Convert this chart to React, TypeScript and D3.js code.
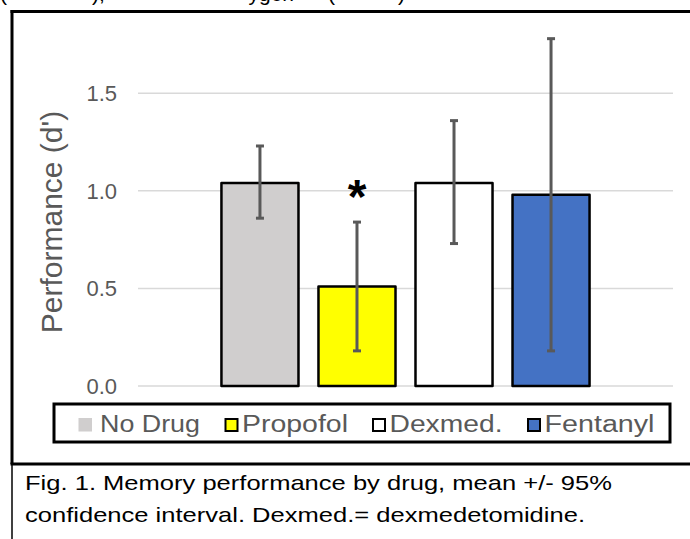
import { useEffect, useRef } from 'react';
import * as d3 from 'd3';

const drugs = ['No Drug', 'Propofol', 'Dexmed.', 'Fentanyl'];
const means = [1.04, 0.51, 1.04, 0.98];
const ciLow = [0.86, 0.18, 0.73, 0.18];
const ciHigh = [1.23, 0.84, 1.36, 1.78];
const fills = ['#d0cece', '#ffff00', '#ffffff', '#4472c4'];
const yTicks = [0, 0.5, 1.0, 1.5];
const starred = ['Propofol'];
const captionLines = [
  'Fig. 1. Memory performance by drug, mean +/- 95%',
  'confidence interval. Dexmed.= dexmedetomidine.',
];

const W = 690;
const H = 539;
const FONT = 'Arial, "Liberation Sans", sans-serif';

export default function App() {
  const svgRef = useRef<SVGSVGElement>(null);

  useEffect(() => {
    const svg = d3.select(svgRef.current);
    svg.selectAll('*').remove();

    // cut-off text from the line above the figure
    const top = [
      { t: '(', x: 0, a: 'start' },
      { t: '),', x: 92, a: 'start' },
      { t: 'ygen', x: 294, a: 'end' },
      { t: '(', x: 328, a: 'start' },
      { t: ')', x: 398, a: 'start' },
    ];
    svg
      .selectAll('.top')
      .data(top)
      .enter()
      .append('text')
      .attr('x', (d) => d.x)
      .attr('y', 0.5)
      .attr('text-anchor', (d) => d.a)
      .style('font-family', FONT)
      .style('font-size', '21px')
      .style('fill', '#000')
      .text((d) => d.t);

    // figure frame
    svg.append('line').attr('x1', 12).attr('x2', 12).attr('y1', 10).attr('y2', 464)
      .attr('stroke', '#000').attr('stroke-width', 3);
    svg.append('line').attr('x1', 12).attr('x2', 12).attr('y1', 464).attr('y2', H)
      .attr('stroke', '#000').attr('stroke-width', 1.5);
    svg.append('line').attr('x1', 10.5).attr('x2', W).attr('y1', 11.5).attr('y2', 11.5)
      .attr('stroke', '#000').attr('stroke-width', 3);
    svg.append('line').attr('x1', 10.5).attr('x2', W).attr('y1', 464).attr('y2', 464)
      .attr('stroke', '#000').attr('stroke-width', 3);

    const x = d3
      .scaleBand()
      .domain(drugs)
      .range([138, 673])
      .paddingInner(0.206)
      .paddingOuter(0.86);

    const y = d3.scaleLinear().domain([0, 1.5]).range([386, 93.3]);

    // gridlines
    svg
      .selectAll('.grid')
      .data(yTicks)
      .enter()
      .append('line')
      .attr('x1', 138)
      .attr('x2', 673)
      .attr('y1', (d) => y(d))
      .attr('y2', (d) => y(d))
      .attr('stroke', '#d9d9d9')
      .attr('stroke-width', 1.5);

    // tick labels
    svg
      .selectAll('.tick')
      .data(yTicks)
      .enter()
      .append('text')
      .attr('x', 117)
      .attr('y', (d) => y(d))
      .attr('dy', '0.36em')
      .attr('text-anchor', 'end')
      .style('font-family', FONT)
      .style('font-size', '22px')
      .style('fill', '#595959')
      .text((d) => d3.format('.1f')(d));

    // axis title
    svg
      .append('text')
      .attr('transform', `translate(62,222) rotate(-90)`)
      .attr('text-anchor', 'middle')
      .style('font-family', FONT)
      .style('font-size', '30px')
      .style('fill', '#595959')
      .text("Performance (d')");

    // bars
    svg
      .selectAll('.bar')
      .data(drugs)
      .enter()
      .append('rect')
      .attr('x', (d) => x(d)!)
      .attr('y', (d, i) => y(means[i]))
      .attr('width', x.bandwidth())
      .attr('height', (d, i) => y(0) - y(means[i]))
      .attr('fill', (d, i) => fills[i])
      .attr('stroke', '#000')
      .attr('stroke-width', 2.5)
      .attr('stroke-linejoin', 'round');

    // error bars
    const err = svg.append('g').attr('stroke', '#595959').attr('stroke-width', 3);
    drugs.forEach((d, i) => {
      const cx = x(d)! + x.bandwidth() / 2;
      err.append('line').attr('x1', cx).attr('x2', cx)
        .attr('y1', y(ciLow[i])).attr('y2', y(ciHigh[i]));
      [ciLow[i], ciHigh[i]].forEach((v) => {
        err.append('line').attr('x1', cx - 4).attr('x2', cx + 4)
          .attr('y1', y(v)).attr('y2', y(v));
      });
    });

    // significance marks
    svg
      .selectAll('.star')
      .data(starred)
      .enter()
      .append('text')
      .attr('x', (d) => x(d)! + x.bandwidth() / 2)
      .attr('y', (d) => y(ciHigh[drugs.indexOf(d)]) - 9)
      .attr('text-anchor', 'middle')
      .style('font-family', FONT)
      .style('font-size', '48px')
      .style('font-weight', 'bold')
      .style('fill', '#000')
      .text('*');

    // legend
    svg.append('rect').attr('x', 54).attr('y', 404).attr('width', 616).attr('height', 38)
      .attr('fill', '#fff').attr('stroke', '#000').attr('stroke-width', 3);
    const legendX = [78.5, 224.5, 372, 527];
    const labelW = [100, 106, 113, 110];
    const lg = svg
      .selectAll('.lg')
      .data(drugs)
      .enter()
      .append('g')
      .attr('transform', (d, i) => `translate(${legendX[i]},418)`);
    lg.append('rect')
      .attr('x', (d, i) => (i === 0 ? 0 : 1))
      .attr('y', (d, i) => (i === 0 ? 0 : 1))
      .attr('width', (d, i) => (i === 0 ? 13.5 : 12))
      .attr('height', (d, i) => (i === 0 ? 13.5 : 12))
      .attr('fill', (d, i) => fills[i])
      .attr('stroke', (d, i) => (i === 0 ? 'none' : '#000'))
      .attr('stroke-width', 2);
    lg.append('text')
      .attr('x', (d, i) => (i === 0 ? 21.5 : 17.5))
      .attr('y', 13.5)
      .attr('textLength', (d, i) => labelW[i])
      .attr('lengthAdjust', 'spacingAndGlyphs')
      .style('font-family', FONT)
      .style('font-size', '23px')
      .style('fill', '#595959')
      .text((d) => d);

    // caption
    const capW = [587, 560];
    svg
      .selectAll('.cap')
      .data(captionLines)
      .enter()
      .append('text')
      .attr('x', 25)
      .attr('y', (d, i) => 490 + i * 32)
      .attr('textLength', (d, i) => capW[i])
      .attr('lengthAdjust', 'spacingAndGlyphs')
      .style('font-family', FONT)
      .style('font-size', '21px')
      .style('fill', '#000')
      .text((d) => d);
  }, []);

  return (
    <svg
      ref={svgRef}
      width={W}
      height={H}
      style={{ position: 'absolute', left: 0, top: 0, background: '#fff' }}
    />
  );
}
